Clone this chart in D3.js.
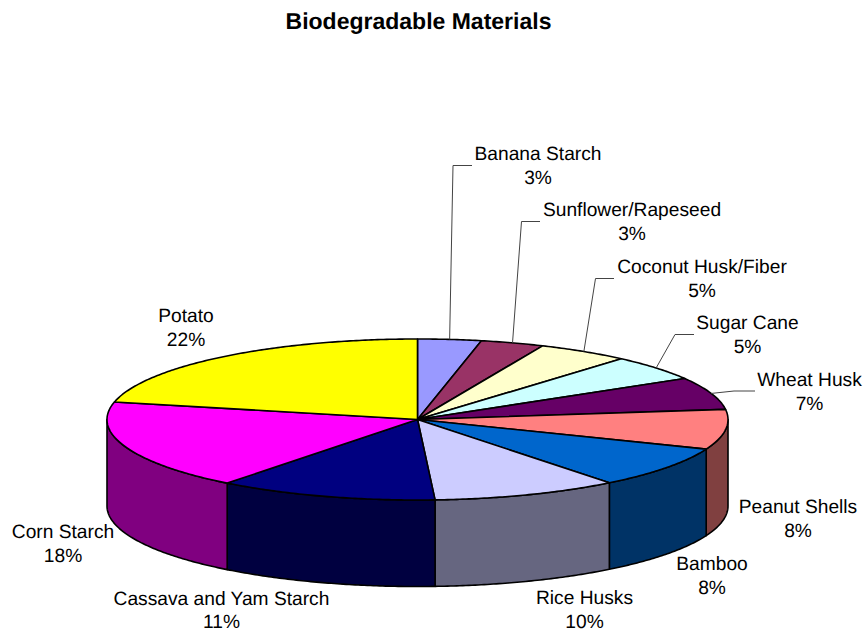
<!DOCTYPE html>
<html>
<head>
<meta charset="utf-8">
<script src="https://cdn.jsdelivr.net/npm/d3@7/dist/d3.min.js"></script>
<style>
html,body{margin:0;padding:0;background:#fff;overflow:hidden;}
svg{display:block;}
text{font-family:"Liberation Sans",Arial,sans-serif;fill:#000;text-rendering:geometricPrecision;}
</style>
</head>
<body>
<svg id="chart" width="866" height="632"></svg>
<script>
const title = "Biodegradable Materials";
const categories = ["Banana Starch","Sunflower/Rapeseed","Coconut Husk/Fiber","Sugar Cane","Wheat Husk","Peanut Shells","Bamboo","Rice Husks","Cassava and Yam Starch","Corn Starch","Potato"];
const values = [3.3,3.3,4.8,5.1,6.5,8.0,8.4,9.7,11.4,18.0,21.5];
const colors = ["#9999FF","#993366","#FFFFCC","#CCFFFF","#660066","#FF8080","#0066CC","#CCCCFF","#000080","#FF00FF","#FFFF00"];
// label layout: centre x, first baseline, line gap
const labelX = [538,632,702,747.5,809.5,798,712,584.5,221.5,63,186];
const labelY = [160,216,273,329,386,513,570,604,605,538,322];
const labelGap = [24,24,24,24,24,24,24,24,23,24,24];
// leader elbows: elbow x, elbow y, end x (null = no leader)
const leaders = [[453,165.5,472],[521.5,221.5,540],[595.5,278.5,614],[675,334.5,694],[734,391,755],null,null,null,null,null,null];

const cx = 417.5, cy = 419.5, rx = 310.5, ry = 80.5, depth = 86.5;
const svg = d3.select("#chart");

const pie = d3.pie().sort(null).value(d => d);
const arcs = pie(values);

// unit-circle projection onto the ellipse through linear scales
const sx = d3.scaleLinear().domain([-1,1]).range([cx-rx,cx+rx]);
const sy = d3.scaleLinear().domain([-1,1]).range([cy+ry,cy-ry]);
const px = t => sx(Math.sin(t));
const py = t => sy(Math.cos(t));
const line = d3.line().curve(d3.curveLinear);
const sampleAngles = (a,b) => {
  const n = Math.max(2,Math.ceil(Math.abs(b-a)/0.01));
  return d3.range(n+1).map(i => a+(b-a)*i/n);
};

// sides
const sideG = svg.append("g");
arcs.forEach((d,i) => {
  const a = Math.max(d.startAngle,Math.PI/2);
  const b = Math.min(d.endAngle,Math.PI*1.5);
  if (b <= a) return;
  const ang = sampleAngles(a,b);
  const top = ang.map(t => [px(t),py(t)]);
  const bot = ang.slice().reverse().map(t => [px(t),py(t)+depth]);
  const c = d3.rgb(colors[i]);
  sideG.append("path")
    .attr("d",line(top.concat(bot))+"Z")
    .attr("fill",d3.rgb(Math.round(c.r/2),Math.round(c.g/2),Math.round(c.b/2)).formatHex())
    .attr("stroke","#000").attr("stroke-width",1.6).attr("stroke-linejoin","round");
});

// top wedges
const topG = svg.append("g");
arcs.forEach((d,i) => {
  const pts = [[sx(0),sy(0)]].concat(sampleAngles(d.startAngle,d.endAngle).map(t => [px(t),py(t)]));
  topG.append("path")
    .attr("d",line(pts)+"Z")
    .attr("fill",colors[i])
    .attr("stroke","#000").attr("stroke-width",1.6).attr("stroke-linejoin","round");
});

// leaders
const leaderG = svg.append("g");
arcs.forEach((d,i) => {
  const l = leaders[i];
  if (!l) return;
  const mid = (d.startAngle+d.endAngle)/2;
  leaderG.append("path")
    .attr("d",line([[px(mid),py(mid)],[l[0],l[1]],[l[2],l[1]]]))
    .attr("fill","none").attr("stroke","#444").attr("stroke-width",1);
});

// labels
const labelG = svg.append("g").attr("font-size",19.2).attr("text-anchor","middle");
categories.forEach((c,i) => {
  labelG.append("text").attr("x",labelX[i]).attr("y",labelY[i]).text(c);
  labelG.append("text").attr("x",labelX[i]).attr("y",labelY[i]+labelGap[i]).text(Math.round(values[i])+"%");
});

svg.append("text").attr("x",418.5).attr("y",29).attr("text-anchor","middle")
  .attr("font-size",23).attr("font-weight","bold").text(title);
</script>
</body>
</html>
